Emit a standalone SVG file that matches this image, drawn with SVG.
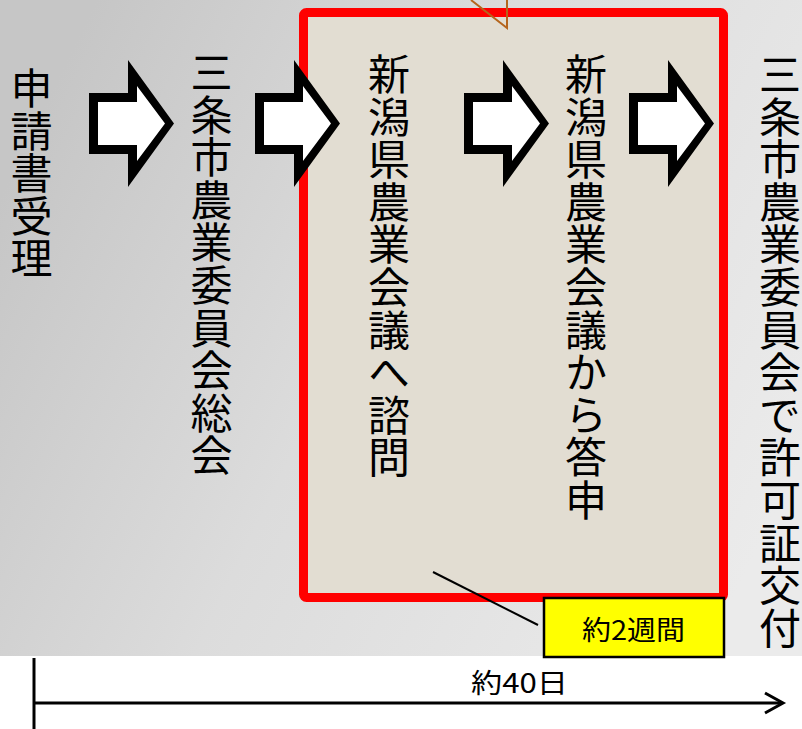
<svg xmlns="http://www.w3.org/2000/svg" width="802" height="729" viewBox="0 0 802 729">
<defs>
<linearGradient id="bg" x1="0" y1="0.3" x2="1" y2="0.7">
<stop offset="0" stop-color="#c6c6c6"/>
<stop offset="0.45" stop-color="#dcdcdc"/>
<stop offset="1" stop-color="#ebebeb"/>
</linearGradient>
<g id="arr">
<polygon fill="#000" points="0,33 39,33 39,0 85,63.5 39,127 39,94 0,94"/>
<polygon fill="#fff" points="9,42 48,42 48,26 76,63.5 48,101 48,85 9,85"/>
</g>
</defs>
<style>
.v{font-family:"Noto Sans CJK JP","Noto Sans CJK SC",sans-serif;font-size:42px;letter-spacing:0.6px;fill:#000;writing-mode:vertical-rl;text-anchor:start}
.h{font-family:"Noto Sans CJK JP","Noto Sans CJK SC",sans-serif;fill:#000;text-anchor:middle}
.ln{stroke:#000;fill:none}
</style>
<rect x="0" y="0" width="802" height="729" fill="#fff"/>
<rect x="0" y="0" width="802" height="656" fill="url(#bg)"/>

<g id="review-box">
<rect x="303.5" y="12.5" width="420" height="585" rx="3" fill="#e2ddd2" stroke="#ff0000" stroke-width="9"/>
</g>

<g id="callout-pointer">
<polyline points="471,0 507,28 507,0" fill="none" stroke="#b5651d" stroke-width="2"/>
</g>

<g id="node-uketsuke"><text class="v" x="31.5" y="67">申請書受理</text></g>
<g id="node-soukai"><text class="v" x="211.5" y="51">三条市農業委員会総会</text></g>
<g id="node-shimon"><text class="v" x="389" y="53">新潟県農業会議へ諮問</text></g>
<g id="node-toushin"><text class="v" x="586" y="53">新潟県農業会議から答申</text></g>
<g id="node-kyoka"><text class="v" x="780" y="53">三条市農業委員会で許可証交付</text></g>

<g id="connectors">
<use href="#arr" transform="translate(89,60)"/>
<use href="#arr" transform="translate(255,60)"/>
<use href="#arr" transform="translate(464,60)"/>
<use href="#arr" transform="translate(629,60)"/>
<line class="ln" x1="433" y1="572" x2="538" y2="625" stroke-width="2"/>
<line class="ln" x1="34" y1="658" x2="34" y2="729" stroke-width="3"/>
<line class="ln" x1="34" y1="703" x2="782" y2="703" stroke-width="3"/>
<polyline class="ln" points="765,693 783,703 765,713" stroke-width="3"/>
</g>

<g id="label-2weeks">
<rect x="544" y="598" width="180" height="59" fill="#ffff00" stroke="#000" stroke-width="2.5"/>
<text class="h" x="633.5" y="640" font-size="27" textLength="103" lengthAdjust="spacingAndGlyphs">約2週間</text>
</g>

<g id="label-40days">
<text class="h" x="519.5" y="693" font-size="27" textLength="97" lengthAdjust="spacingAndGlyphs">約40日</text>
</g>
</svg>
